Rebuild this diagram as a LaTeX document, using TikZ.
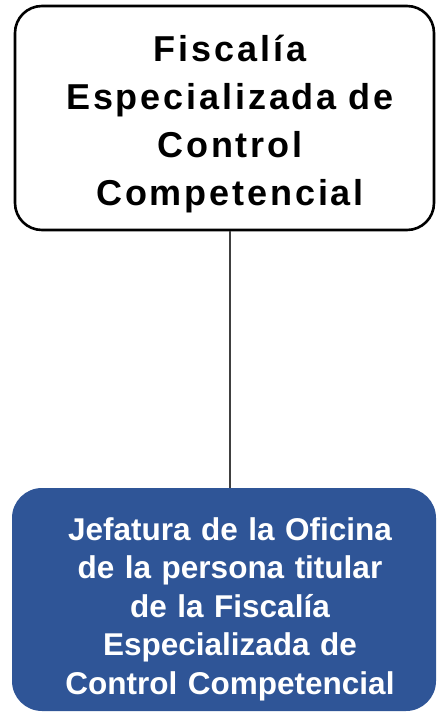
\documentclass[tikz,border=0pt]{standalone}
\usepackage{fontspec}
\setmainfont{Liberation Sans}
\definecolor{boxblue}{HTML}{2F5597}
\definecolor{linegray}{HTML}{404040}
\begin{document}
\begin{tikzpicture}[x=1pt,y=-1pt,
  topbox/.style={draw=black, line width=2.6pt, rounded corners=27pt, fill=white},
  blubox/.style={fill=boxblue, rounded corners=30pt},
  toptext/.style={font=\fontsize{36}{48}\selectfont\bfseries\addfontfeatures{LetterSpace=8}, align=center, text width=420pt},
  blutext/.style={font=\fontsize{31.5}{38.5}\selectfont\bfseries, align=center, text=white, text width=420pt},
  conn/.style={draw=linegray, line width=2pt}]
\useasboundingbox (0,0) rectangle (438,715);
\coordinate (tnw) at (15,6);
\coordinate (tse) at (434,230);
\coordinate (bnw) at (12,488);
\coordinate (bse) at (436,711);
\draw[topbox] (tnw) rectangle (tse);
\fill[blubox] (bnw) rectangle (bse);
\node[toptext] (top) at (230,124) {Fiscalía\\Especializada de\\Control\\Competencial};
\node[blutext] (bot) at (230,609) {Jefatura de la Oficina\\de la persona titular\\de la Fiscalía\\Especializada de\\Control Competencial};
\coordinate (a) at (230,231);
\coordinate (b) at (230,488);
\draw[conn] (a) -- (b);
\end{tikzpicture}
\end{document}
